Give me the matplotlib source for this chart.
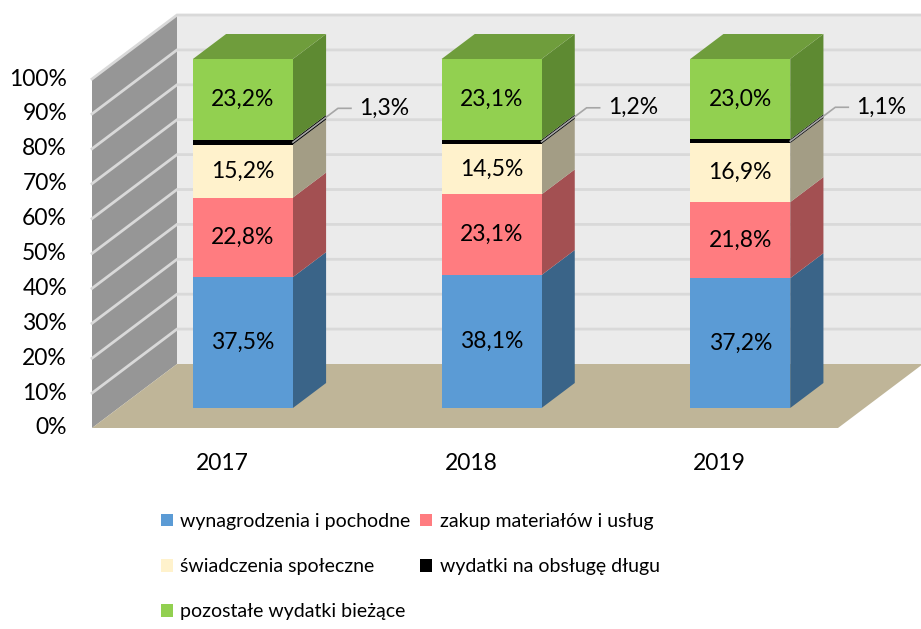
import numpy as np
import matplotlib
matplotlib.use('Agg')
import matplotlib.pyplot as plt
from matplotlib.patches import Polygon, Patch

plt.rcParams['font.family'] = ['Lato', 'DejaVu Sans']

# dane
lata = ['2017', '2018', '2019']
wynagrodzenia = [37.5, 38.1, 37.2]
zakup = [22.8, 23.1, 21.8]
swiadczenia = [15.2, 14.5, 16.9]
dlug = [1.3, 1.2, 1.1]
pozostale = [23.2, 23.1, 23.0]

serie = [wynagrodzenia, zakup, swiadczenia, dlug, pozostale]
nazwy = ['wynagrodzenia i pochodne', 'zakup materiałów i usług',
         'świadczenia społeczne', 'wydatki na obsługę długu',
         'pozostałe wydatki bieżące']
kolory = ['#5B9BD5', '#FF7C80', '#FFF2CC', '#000000', '#92D050']
boki = ['#3A6488', '#A35052', '#A39D85', '#000000', '#5E8A32']
gora = '#6F9D3C'

# geometria "3D" (w jednostkach danych)
px_x = 248.67   # px na kategorię
px_y = 3.49     # px na 1%
gl_x = 85 / px_x   # przesunięcie głębi
gl_y = 64 / px_y
szer = 100 / px_x
d0, d1 = 0.3125, 0.703
fs = 16.5

fig = plt.figure(figsize=(9.21, 6.29), dpi=100)
ax = fig.add_axes([0, 0, 1, 1])
ax.set_xlim(-0.5 - 92 / px_x, -0.5 + 829 / px_x)
ax.set_ylim(-201 / px_y, 428 / px_y)


def p(x, y, d):
    return (x + d * gl_x, y + d * gl_y)


x0, x1 = -0.5, 2.5
# tylna ściana
ax.add_patch(Polygon([p(x0, 0, 1), p(x1 + 0.2, 0, 1), p(x1 + 0.2, 100, 1), p(x0, 100, 1)],
                     closed=True, fc='#EBEBEB', ec='none', zorder=1))
# lewa ściana
ax.add_patch(Polygon([p(x0, 0, 0), p(x0, 0, 1), p(x0, 100, 1), p(x0, 100, 0)],
                     closed=True, fc='#969696', ec='none', zorder=1))
# linie siatki
for v in range(10, 101, 10):
    a = p(x0, v, 0)
    b = p(x0, v, 1)
    c = p(x1 + 0.2, v, 1)
    ax.plot([a[0], b[0], c[0]], [a[1], b[1], c[1]], color='#D9D9D9', lw=2, zorder=2,
            solid_joinstyle='miter')
# podłoga
ax.add_patch(Polygon([p(x0, 0, 0), p(x1, 0, 0), p(x1, 0, 1), p(x0, 0, 1)],
                     closed=True, fc='#BFB598', ec='none', zorder=3))

# słupki
for i in range(len(lata)):
    xl = i - szer / 2
    xr = i + szer / 2
    dol = 0
    for s in range(len(serie)):
        v = serie[s][i]
        gr = dol + v
        ax.add_patch(Polygon([p(xr, dol, d0), p(xr, dol, d1), p(xr, gr, d1), p(xr, gr, d0)],
                             closed=True, fc=boki[s], ec='none', zorder=4))
        ax.add_patch(Polygon([p(xl, dol, d0), p(xr, dol, d0), p(xr, gr, d0), p(xl, gr, d0)],
                             closed=True, fc=kolory[s], ec='none', zorder=5))
        cx, cy = p(i, dol + v / 2, d0)
        if s == 3:
            # etykieta z linią odniesienia
            sx, sy = p(xr, dol + v / 2, d0)
            ex, ey = sx + 0.53 * gl_x, sy + 0.53 * gl_y
            hx = ex + 13 / px_x
            ax.plot([sx, ex, hx], [sy, ey, ey], color='#A6A6A6', lw=1.2, zorder=6)
            ax.text(hx + 8 / px_x, ey, f'{v:.1f}%'.replace('.', ','), ha='left',
                    va='center', fontsize=fs, zorder=7)
        else:
            ax.text(cx, cy, f'{v:.1f}%'.replace('.', ','), ha='center', va='center',
                    fontsize=fs, zorder=7)
        dol = gr
    ax.add_patch(Polygon([p(xl, dol, d0), p(xr, dol, d0), p(xr, dol, d1), p(xl, dol, d1)],
                         closed=True, fc=gora, ec='none', zorder=4))

# osie
for v in range(0, 101, 10):
    ax.text(x0 - 25 / px_x, v, f'{v}%', ha='right', va='center', fontsize=fs)
for i, rok in enumerate(lata):
    ax.text(i + 6 / px_x, -35 / px_y, rok, ha='center', va='center', fontsize=fs)
ax.axis('off')

# legenda (wiersze jak w oryginale)
uchwyty = [Patch(fc=c, ec='none') for c in kolory]
kol = [0, 2, 4, 1, 3]
ax.legend([uchwyty[k] for k in kol], [nazwy[k] for k in kol], ncol=2,
          loc='upper left', bbox_to_anchor=(161 / 921, 1 - 513 / 629),
          frameon=False, fontsize=14, handlelength=0.6, handleheight=0.6,
          handletextpad=0.4, columnspacing=0.5, labelspacing=1.45, borderpad=0,
          borderaxespad=0)

fig.savefig('out.png', dpi=100)
